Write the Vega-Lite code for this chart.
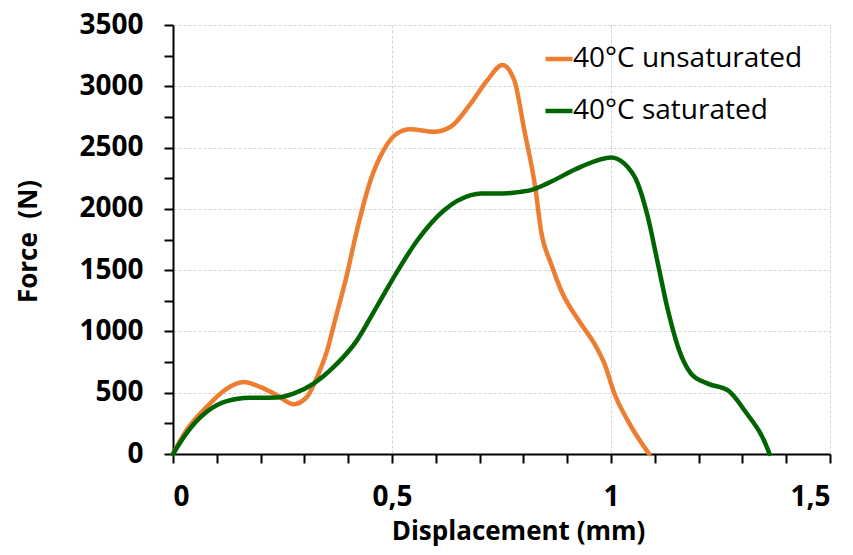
{
  "$schema": "https://vega.github.io/schema/vega-lite/v6.json",
  "autosize": {"type": "none"},
  "padding": {"left": 173, "top": 25, "right": 23, "bottom": 101},
  "width": 657,
  "height": 429,
  "background": "white",
  "config": {
    "view": {"stroke": null},
    "font": "Open Sans",
    "axis": {
      "domainColor": "black",
      "domainWidth": 2,
      "tickColor": "black",
      "tickWidth": 2,
      "tickSize": 9,
      "gridColor": "#d4d4d4",
      "gridDash": [3, 2],
      "gridWidth": 1,
      "labelFont": "Open Sans",
      "labelFontWeight": "bold",
      "labelFontSize": 28,
      "labelColor": "black",
      "titleFont": "Open Sans",
      "titleFontWeight": "bold",
      "titleFontSize": 26,
      "titleColor": "black",
      "labelOverlap": false
    }
  },
  "data": {
    "values": [
      {"series": "40°C unsaturated", "x": 0, "y": 0},
      {"series": "40°C unsaturated", "x": 0.031, "y": 195},
      {"series": "40°C unsaturated", "x": 0.077, "y": 385},
      {"series": "40°C unsaturated", "x": 0.123, "y": 534},
      {"series": "40°C unsaturated", "x": 0.161, "y": 588},
      {"series": "40°C unsaturated", "x": 0.199, "y": 547},
      {"series": "40°C unsaturated", "x": 0.237, "y": 480},
      {"series": "40°C unsaturated", "x": 0.275, "y": 406},
      {"series": "40°C unsaturated", "x": 0.306, "y": 466},
      {"series": "40°C unsaturated", "x": 0.329, "y": 628},
      {"series": "40°C unsaturated", "x": 0.352, "y": 846},
      {"series": "40°C unsaturated", "x": 0.372, "y": 1120},
      {"series": "40°C unsaturated", "x": 0.394, "y": 1417},
      {"series": "40°C unsaturated", "x": 0.42, "y": 1826},
      {"series": "40°C unsaturated", "x": 0.451, "y": 2234},
      {"series": "40°C unsaturated", "x": 0.481, "y": 2480},
      {"series": "40°C unsaturated", "x": 0.512, "y": 2616},
      {"series": "40°C unsaturated", "x": 0.542, "y": 2649},
      {"series": "40°C unsaturated", "x": 0.596, "y": 2629},
      {"series": "40°C unsaturated", "x": 0.634, "y": 2670},
      {"series": "40°C unsaturated", "x": 0.68, "y": 2861},
      {"series": "40°C unsaturated", "x": 0.718, "y": 3051},
      {"series": "40°C unsaturated", "x": 0.752, "y": 3174},
      {"series": "40°C unsaturated", "x": 0.779, "y": 3051},
      {"series": "40°C unsaturated", "x": 0.802, "y": 2643},
      {"series": "40°C unsaturated", "x": 0.828, "y": 2153},
      {"series": "40°C unsaturated", "x": 0.84, "y": 1826},
      {"series": "40°C unsaturated", "x": 0.863, "y": 1554},
      {"series": "40°C unsaturated", "x": 0.886, "y": 1336},
      {"series": "40°C unsaturated", "x": 0.931, "y": 1064},
      {"series": "40°C unsaturated", "x": 0.962, "y": 900},
      {"series": "40°C unsaturated", "x": 0.985, "y": 737},
      {"series": "40°C unsaturated", "x": 1.008, "y": 492},
      {"series": "40°C unsaturated", "x": 1.038, "y": 274},
      {"series": "40°C unsaturated", "x": 1.084, "y": 15},
      {"series": "40°C unsaturated", "x": 1.087, "y": 0},
      {"series": "40°C saturated", "x": 0, "y": 0},
      {"series": "40°C saturated", "x": 0.031, "y": 170},
      {"series": "40°C saturated", "x": 0.077, "y": 344},
      {"series": "40°C saturated", "x": 0.123, "y": 431},
      {"series": "40°C saturated", "x": 0.176, "y": 458},
      {"series": "40°C saturated", "x": 0.237, "y": 461},
      {"series": "40°C saturated", "x": 0.275, "y": 493},
      {"series": "40°C saturated", "x": 0.321, "y": 575},
      {"series": "40°C saturated", "x": 0.367, "y": 710},
      {"series": "40°C saturated", "x": 0.42, "y": 927},
      {"series": "40°C saturated", "x": 0.46, "y": 1170},
      {"series": "40°C saturated", "x": 0.5, "y": 1417},
      {"series": "40°C saturated", "x": 0.558, "y": 1744},
      {"series": "40°C saturated", "x": 0.619, "y": 1989},
      {"series": "40°C saturated", "x": 0.68, "y": 2112},
      {"series": "40°C saturated", "x": 0.703, "y": 2126},
      {"series": "40°C saturated", "x": 0.756, "y": 2126},
      {"series": "40°C saturated", "x": 0.794, "y": 2139},
      {"series": "40°C saturated", "x": 0.817, "y": 2153},
      {"series": "40°C saturated", "x": 0.855, "y": 2208},
      {"series": "40°C saturated", "x": 0.931, "y": 2343},
      {"series": "40°C saturated", "x": 1.0, "y": 2420},
      {"series": "40°C saturated", "x": 1.03, "y": 2371},
      {"series": "40°C saturated", "x": 1.061, "y": 2208},
      {"series": "40°C saturated", "x": 1.084, "y": 1935},
      {"series": "40°C saturated", "x": 1.107, "y": 1554},
      {"series": "40°C saturated", "x": 1.13, "y": 1172},
      {"series": "40°C saturated", "x": 1.153, "y": 873},
      {"series": "40°C saturated", "x": 1.183, "y": 655},
      {"series": "40°C saturated", "x": 1.221, "y": 574},
      {"series": "40°C saturated", "x": 1.267, "y": 519},
      {"series": "40°C saturated", "x": 1.305, "y": 355},
      {"series": "40°C saturated", "x": 1.359, "y": 29},
      {"series": "40°C saturated", "x": 1.362, "y": 0}
    ]
  },
  "mark": {"type": "line", "interpolate": "monotone", "strokeWidth": 4.5, "strokeCap": "round"},
  "encoding": {
    "x": {
      "field": "x",
      "type": "quantitative",
      "scale": {"domain": [0, 1.5], "nice": false, "zero": false},
      "axis": {
        "title": "Displacement (mm)",
        "values": [0, 0.1, 0.2, 0.3, 0.4, 0.5, 0.6, 0.7, 0.8, 0.9, 1, 1.1, 1.2, 1.3, 1.4, 1.5],
        "labelExpr": "(datum.value == 0 || datum.value == 0.5 || datum.value == 1 || datum.value == 1.5) ? replace('' + datum.value, '.', ',') : ''",
        "labelBaseline": "alphabetic",
        "labelPadding": 42,
        "gridOpacity": {"condition": {"test": "datum.value == 0.5 || datum.value == 1 || datum.value == 1.5", "value": 1}, "value": 0},
        "titleX": 345,
        "titleY": 85,
        "titleBaseline": "alphabetic",
        "titleAnchor": null
      }
    },
    "y": {
      "field": "y",
      "type": "quantitative",
      "scale": {"domain": [0, 3500], "nice": false},
      "axis": {
        "title": "Force \u00a0(N)",
        "values": [0, 250, 500, 750, 1000, 1250, 1500, 1750, 2000, 2250, 2500, 2750, 3000, 3250, 3500],
        "labelExpr": "datum.value % 500 == 0 ? '' + datum.value : ''",
        "labelPadding": 21,
        "gridOpacity": {"condition": {"test": "datum.value % 500 == 0 && datum.value > 0", "value": 1}, "value": 0},
        "titleAngle": -90,
        "titleX": -145,
        "titleY": 216,
        "titleBaseline": "middle",
        "titleAlign": "center"
      }
    },
    "color": {
      "field": "series",
      "type": "nominal",
      "scale": {"domain": ["40°C unsaturated", "40°C saturated"], "range": ["#ED7D31", "#006400"]},
      "legend": {
        "title": null,
        "orient": "none",
        "legendX": 370,
        "legendY": 18,
        "padding": 0,
        "symbolType": "stroke",
        "symbolSize": 729,
        "symbolStrokeWidth": 4.5,
        "labelFont": "Open Sans",
        "labelFontSize": 28,
        "labelColor": "black",
        "labelOffset": -2,
        "rowPadding": 22,
        "labelLimit": 400
      }
    }
  }
}
